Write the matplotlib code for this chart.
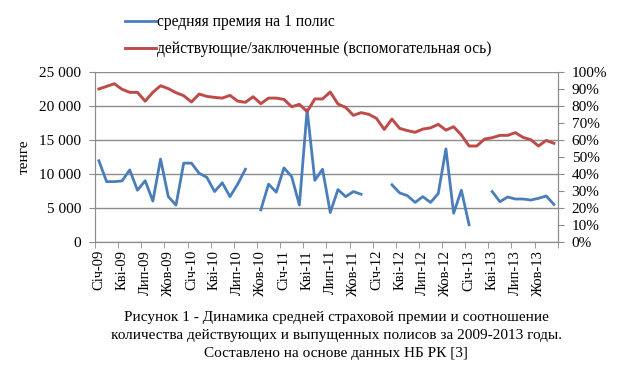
import numpy as np
import matplotlib
matplotlib.use("Agg")
import matplotlib.pyplot as plt
from matplotlib.ticker import FuncFormatter, MultipleLocator

plt.rcParams['font.family'] = ['Liberation Serif', 'DejaVu Serif']

months = ["Січ", "Лют", "Бер", "Кві", "Тра", "Чер",
          "Лип", "Сер", "Вер", "Жов", "Лис", "Гру"]
years = ["09", "10", "11", "12", "13"]
categories = [m + "-" + y for y in years for m in months]

# средняя премия на 1 полис, тенге (nan = нет данных)
premium = [11950, 8870, 8870, 8970, 10600, 7600, 9000, 6000, 12200, 6650,
           5400, 11600, 11600, 10100, 9500, 7400, 8700, 6650, 8500, 10700,
           np.nan, 4700, 8500, 7300, 10900, 9600, 5400, 19500, 9050, 10700,
           4300, 7700, 6650, 7400, 7000, np.nan, np.nan, np.nan, 8400, 7200,
           6800, 5800, 6650, 5800, 7100, 13700, 4200, 7600, 2500, np.nan,
           np.nan, 7400, 5900, 6600, 6300, 6300, 6150, 6400, 6750, 5500]

# действующие/заключенные, %
ratio = [90.2, 91.7, 93.3, 90.0, 88.2, 88.2, 83.0, 88.2, 92.1, 90.4,
         88.0, 86.2, 82.5, 87.2, 85.8, 85.2, 84.8, 86.4, 83.0, 82.3,
         85.6, 81.5, 84.8, 84.8, 84.0, 79.7, 81.1, 76.8, 84.3, 84.3,
         88.4, 81.3, 79.3, 74.6, 76.2, 75.2, 72.8, 66.3, 72.4, 66.9,
         65.6, 64.6, 66.5, 67.2, 69.3, 65.9, 67.9, 63.0, 56.5, 56.5,
         60.6, 61.4, 62.8, 62.8, 64.4, 61.6, 60.2, 56.5, 59.8, 58.1]

label_blue = "средняя премия на 1 полис"
label_red = "действующие/заключенные (вспомогательная ось)"
caption = ("Рисунок 1 - Динамика средней страховой премии и соотношение\n"
           "количества действующих и выпущенных полисов за 2009-2013 годы.\n"
           "Составлено на основе данных НБ РК [3]")

blue = "#4a7ebb"
red = "#be4b48"
grid = "#8c8c8c"

fig = plt.figure(figsize=(6.17, 3.78), dpi=100)
ax = fig.add_axes([0.154, 0.3606, 0.75, 0.448])
ax2 = ax.twinx()

x = np.arange(len(categories))
l1, = ax.plot(x, premium, color=blue, lw=2.0)
l2, = ax2.plot(x, ratio, color=red, lw=2.1)

ax.set_xlim(-0.5, len(categories) - 0.5)
ax.set_ylim(0, 25000)
ax2.set_ylim(0, 100)
ax.yaxis.set_major_locator(MultipleLocator(5000))
ax.yaxis.set_major_formatter(FuncFormatter(lambda v, p: f"{int(v):,}".replace(",", " ")))
ax2.yaxis.set_major_locator(MultipleLocator(10))
ax2.yaxis.set_major_formatter(FuncFormatter(lambda v, p: f"{int(v)}%"))
ax.grid(axis="y", color=grid, lw=1)
ax.set_axisbelow(True)

ax.set_xticks(x[::3])
ax.set_xticklabels(categories[::3], rotation=90, fontsize=10.5)
ax.set_xticks(np.arange(-0.5, len(categories), 3), minor=True)
ax.tick_params(axis="x", which="major", length=0, pad=6)
ax.tick_params(axis="x", which="minor", length=4, color=grid, direction="out")
ax.tick_params(axis="y", length=4, color=grid, labelsize=11, pad=6)
ax2.tick_params(axis="y", length=4, color=grid, labelsize=11, pad=6)

for a in (ax, ax2):
    a.spines["top"].set_visible(False)
    for s in ("left", "right", "bottom"):
        a.spines[s].set_color(grid)

ax.set_ylabel("тенге", fontsize=11, labelpad=6)

fig.legend([l1, l2], [label_blue, label_red], loc="upper left",
           bbox_to_anchor=(0.18, 1.0), frameon=False, fontsize=11.2,
           handlelength=2.0, handletextpad=0.05, labelspacing=0.72)

fig.text(0.545, 0.178, caption, ha="center", va="top", fontsize=11,
         linespacing=1.5)

fig.savefig("out.png", dpi=100)
